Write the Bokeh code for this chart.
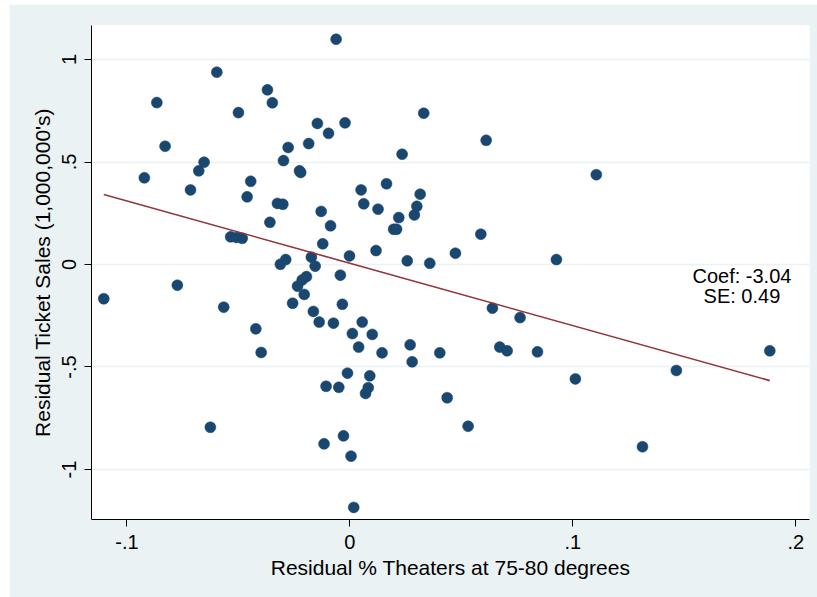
import numpy as np
from bokeh.plotting import figure
from bokeh.models import Range1d, FixedTicker, Label
from bokeh.embed import file_html
from bokeh.resources import INLINE

# Residualised data: % of theaters at 75-80 degrees vs. ticket sales (millions)
resid_temp = [
    -0.0597, -0.0866, -0.0500, -0.0370, -0.0348, -0.0829, -0.0654, -0.0678, -0.0922, -0.0445,
    -0.0715, -0.0461, -0.0359, -0.0535, -0.0509, -0.0483, -0.1104, -0.0774, -0.0566, -0.0422,
    -0.0398, -0.0626, -0.0062, 0.0331, -0.0146, -0.0022, -0.0096, -0.0185, -0.0277, 0.0234,
    -0.0298, -0.0226, -0.0221, 0.0050, 0.0164, 0.0315, -0.0325, -0.0301, 0.0062, 0.0126,
    0.0300, -0.0129, 0.0289, 0.0219, -0.0087, 0.0196, 0.0209, -0.0122, 0.0117, -0.0288,
    -0.0312, -0.0173, -0.0002, -0.0156, 0.0257, 0.0358, -0.0195, -0.0214, -0.0043, -0.0235,
    -0.0205, -0.0257, -0.0034, -0.0164, -0.0138, -0.0074, 0.0055, 0.0011, 0.0100, 0.0039,
    0.0144, 0.0270, 0.0279, 0.0403, -0.0011, 0.0089, -0.0107, -0.0050, 0.0082, 0.0070,
    0.0436, -0.0029, -0.0116, 0.0005, 0.0017, 0.0611, 0.1105, 0.0587, 0.0473, 0.0926,
    0.0639, 0.0763, 0.0672, 0.0705, 0.0841, 0.1011, 0.0530, 0.1883, 0.1464, 0.1312,
]
resid_sales = [
    0.938, 0.790, 0.741, 0.852, 0.789, 0.577, 0.499, 0.457, 0.423, 0.406,
    0.364, 0.330, 0.206, 0.135, 0.132, 0.128, -0.167, -0.101, -0.208, -0.314,
    -0.429, -0.794, 1.099, 0.738, 0.688, 0.691, 0.640, 0.590, 0.571, 0.538,
    0.507, 0.457, 0.449, 0.364, 0.394, 0.343, 0.298, 0.294, 0.296, 0.270,
    0.284, 0.259, 0.242, 0.229, 0.189, 0.172, 0.172, 0.101, 0.068, 0.024,
    0.001, 0.036, 0.042, -0.008, 0.018, 0.006, -0.059, -0.075, -0.052, -0.106,
    -0.146, -0.189, -0.194, -0.229, -0.281, -0.286, -0.281, -0.337, -0.341, -0.403,
    -0.431, -0.392, -0.475, -0.431, -0.530, -0.543, -0.594, -0.599, -0.601, -0.629,
    -0.650, -0.836, -0.875, -0.935, -1.185, 0.606, 0.438, 0.148, 0.055, 0.024,
    -0.213, -0.259, -0.403, -0.421, -0.426, -0.558, -0.789, -0.421, -0.517, -0.889,
]

# Regression estimates reported on the chart
COEF = -3.04
SE = 0.49

x_ticks = [-0.1, 0.0, 0.1, 0.2]
x_tick_labels = ["-.1", "0", ".1", ".2"]
y_ticks = [-1.0, -0.5, 0.0, 0.5, 1.0]
y_tick_labels = ["-1", "-.5", "0", ".5", "1"]

FONT = "Liberation Sans"
NAVY = "#1A476F"
MAROON = "#90353B"
BG = "#EAF2F3"

p = figure(
    width=808, height=593,
    x_range=Range1d(-0.1159, 0.2061),
    y_range=Range1d(-1.244, 1.166),
    output_backend="svg", toolbar_location=None,
    min_border_left=82, min_border_right=8, min_border_top=21, min_border_bottom=78,
)
p.margin = (4, 0, 0, 9)
p.border_fill_color = BG
p.background_fill_color = "white"
p.outline_line_color = None

# Axes
p.xaxis.ticker = FixedTicker(ticks=x_ticks)
p.xaxis.major_label_overrides = dict(zip(x_ticks, x_tick_labels))
p.yaxis.ticker = FixedTicker(ticks=y_ticks)
p.yaxis.major_label_overrides = dict(zip(y_ticks, y_tick_labels))
p.yaxis.major_label_orientation = "vertical"
p.xaxis.axis_label = "Residual % Theaters at 75-80 degrees"
p.yaxis.axis_label = "Residual Ticket Sales (1,000,000's)"
for ax in (p.xaxis, p.yaxis):
    ax.axis_line_color = "black"
    ax.axis_line_width = 1
    ax.major_tick_line_color = "black"
    ax.major_tick_in = 0
    ax.major_tick_out = 7
    ax.minor_tick_line_color = None
    ax.major_label_text_font = FONT
    ax.major_label_text_font_size = "20px"
    ax.major_label_text_color = "black"
    ax.axis_label_text_font = FONT
    ax.axis_label_text_font_size = "21px"
    ax.axis_label_text_font_style = "normal"
    ax.axis_label_text_color = "black"
p.xaxis.major_label_standoff = 8
p.xaxis.axis_label_standoff = 4
p.yaxis.major_label_standoff = 8
p.yaxis.axis_label_standoff = 6

# Horizontal grid lines only
p.xgrid.grid_line_color = None
p.ygrid.grid_line_color = BG
p.ygrid.grid_line_width = 1.5

# Scatter of residuals
p.scatter(resid_temp, resid_sales, size=11, fill_color=NAVY, line_color=NAVY, line_width=0.5)

# Linear fit across the range of the data
x_arr = np.array(resid_temp)
y_arr = np.array(resid_sales)
intercept = y_arr.mean() - COEF * x_arr.mean()
fit_x = [x_arr.min(), x_arr.max()]
fit_y = [intercept + COEF * v for v in fit_x]
p.line(fit_x, fit_y, line_color=MAROON, line_width=1.6)

# Coefficient annotation
for text, yv in ((f"Coef: {COEF:.2f}", -0.0585), (f"SE: {SE:.2f}", -0.155)):
    p.add_layout(Label(
        x=0.1758, y=yv, text=text,
        text_align="center", text_baseline="middle",
        text_font=FONT, text_font_size="20px", text_color="black",
    ))

open("out.html", "w").write(file_html(p, INLINE))
